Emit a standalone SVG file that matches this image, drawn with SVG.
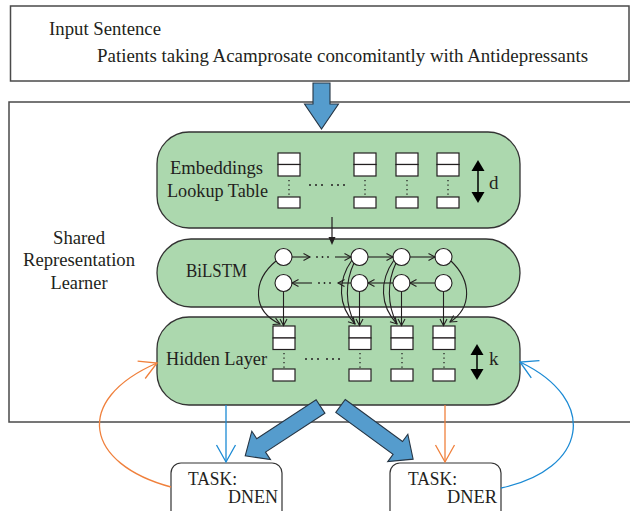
<svg xmlns="http://www.w3.org/2000/svg" width="630" height="511" viewBox="0 0 630 511">
<style>
  text { font-family: "Liberation Serif", "Times New Roman", serif; font-size: 18px; fill: #231f20; }
  .frame { fill: #fff; stroke: #4a4a4a; stroke-width: 1.5; }
  .green { fill: #acd8ae; stroke: #333; stroke-width: 1.3; }
  .cell { fill: #fff; stroke: #231f20; stroke-width: 1.2; }
  .dotv { stroke: #231f20; stroke-width: 1.3; stroke-dasharray: 1.3 3.2; fill: none; }
  .node { fill: #fff; stroke: #231f20; stroke-width: 1.1; }
  .ln { fill: none; stroke: #231f20; stroke-width: 1.1; }
  .big { fill: #559ccd; stroke: #263544; stroke-width: 1.1; stroke-linejoin: miter; }
  .or { fill: none; stroke: #f0803c; stroke-width: 1.3; }
  .bl { fill: none; stroke: #1b8ad4; stroke-width: 1.3; }
  .task { fill: #fff; stroke: #333; stroke-width: 1.2; }
</style>
<defs>
  <marker id="mk" markerUnits="userSpaceOnUse" markerWidth="14" markerHeight="14" refX="7" refY="4" orient="auto" overflow="visible">
    <path d="M0.5,0.5 L7,4 L0.5,7.5" fill="none" stroke="#231f20" stroke-width="1.1"/>
  </marker>
  <marker id="mkOr" markerUnits="userSpaceOnUse" markerWidth="24" markerHeight="24" refX="18" refY="10" orient="auto" overflow="visible">
    <path d="M1,0.5 L18,10 L1,19.5" fill="none" stroke="#f0803c" stroke-width="1.3"/>
  </marker>
  <marker id="mkBl" markerUnits="userSpaceOnUse" markerWidth="24" markerHeight="24" refX="18" refY="10" orient="auto" overflow="visible">
    <path d="M1,0.5 L18,10 L1,19.5" fill="none" stroke="#1b8ad4" stroke-width="1.3"/>
  </marker>
</defs>

<g id="input-sentence">
  <rect class="frame" x="10.5" y="6" width="618.5" height="75"/>
  <text x="49" y="35" textLength="112" lengthAdjust="spacingAndGlyphs">Input Sentence</text>
  <text x="97" y="62" textLength="491" lengthAdjust="spacingAndGlyphs">Patients taking Acamprosate concomitantly with Antidepressants</text>
</g>

<g id="shared-learner">
  <rect class="frame" x="9" y="102" width="630" height="320"/>
  <text x="79" y="244" text-anchor="middle" textLength="52" lengthAdjust="spacingAndGlyphs">Shared</text>
  <text x="79" y="266" text-anchor="middle" textLength="112" lengthAdjust="spacingAndGlyphs">Representation</text>
  <text x="79" y="289" text-anchor="middle" textLength="57" lengthAdjust="spacingAndGlyphs">Learner</text>
</g>

<g id="embeddings">
  <rect class="green" x="157" y="132" width="363" height="96" rx="32" ry="32"/>
  <text x="170" y="174" textLength="93" lengthAdjust="spacingAndGlyphs">Embeddings</text>
  <text x="167" y="197" textLength="101" lengthAdjust="spacingAndGlyphs">Lookup Table</text>
  <g>
    <rect class="cell" x="278" y="153" width="22" height="11.5"/>
    <rect class="cell" x="278" y="164.5" width="22" height="11.5"/>
    <line class="dotv" x1="289" y1="180" x2="289" y2="196"/>
    <rect class="cell" x="278" y="197" width="22" height="11"/>
    <rect class="cell" x="354" y="153" width="22" height="11.5"/>
    <rect class="cell" x="354" y="164.5" width="22" height="11.5"/>
    <line class="dotv" x1="365" y1="180" x2="365" y2="196"/>
    <rect class="cell" x="354" y="197" width="22" height="11"/>
    <rect class="cell" x="396" y="153" width="22" height="11.5"/>
    <rect class="cell" x="396" y="164.5" width="22" height="11.5"/>
    <line class="dotv" x1="407" y1="180" x2="407" y2="196"/>
    <rect class="cell" x="396" y="197" width="22" height="11"/>
    <rect class="cell" x="437" y="153" width="22" height="11.5"/>
    <rect class="cell" x="437" y="164.5" width="22" height="11.5"/>
    <line class="dotv" x1="448" y1="180" x2="448" y2="196"/>
    <rect class="cell" x="437" y="197" width="22" height="11"/>
  </g>
  <g fill="#231f20">
    <circle cx="310" cy="185" r="1"/><circle cx="316" cy="185" r="1"/><circle cx="322" cy="185" r="1"/>
    <circle cx="332" cy="185" r="1"/><circle cx="338" cy="185" r="1"/><circle cx="344" cy="185" r="1"/>
  </g>
  <line x1="478" y1="168" x2="478" y2="195" stroke="#000" stroke-width="1.5"/>
  <polygon points="478,160 471.5,171 484.5,171" fill="#000"/>
  <polygon points="478,203 471.5,192 484.5,192" fill="#000"/>
  <text x="489" y="189" style="font-size:19px">d</text>
</g>

<g id="bilstm">
  <rect class="green" x="157" y="239" width="363" height="68" rx="34" ry="34"/>
  <text x="186" y="277" textLength="61" lengthAdjust="spacingAndGlyphs">BiLSTM</text>
  <circle class="node" cx="283.5" cy="257" r="8.5"/>
  <circle class="node" cx="359.5" cy="257" r="8.5"/>
  <circle class="node" cx="401.5" cy="257" r="8.5"/>
  <circle class="node" cx="443.5" cy="257" r="8.5"/>
  <circle class="node" cx="283.5" cy="283" r="8.5"/>
  <circle class="node" cx="359.5" cy="283" r="8.5"/>
  <circle class="node" cx="401.5" cy="283" r="8.5"/>
  <circle class="node" cx="443.5" cy="283" r="8.5"/>
  <g fill="#231f20">
    <circle cx="317" cy="257" r="0.9"/><circle cx="322.5" cy="257" r="0.9"/><circle cx="328" cy="257" r="0.9"/>
    <circle cx="319" cy="283" r="0.9"/><circle cx="324.5" cy="283" r="0.9"/><circle cx="330" cy="283" r="0.9"/>
  </g>
</g>

<g id="hidden-layer">
  <rect class="green" x="157" y="317" width="363" height="88" rx="32" ry="32"/>
  <text x="166" y="365" textLength="101" lengthAdjust="spacingAndGlyphs">Hidden Layer</text>
  <g>
    <rect class="cell" x="273" y="326" width="22" height="12"/>
    <rect class="cell" x="273" y="338" width="22" height="11.5"/>
    <line class="dotv" x1="284" y1="353" x2="284" y2="368"/>
    <rect class="cell" x="273" y="369" width="22" height="12"/>
    <rect class="cell" x="349" y="326" width="22" height="12"/>
    <rect class="cell" x="349" y="338" width="22" height="11.5"/>
    <line class="dotv" x1="360" y1="353" x2="360" y2="368"/>
    <rect class="cell" x="349" y="369" width="22" height="12"/>
    <rect class="cell" x="391" y="326" width="22" height="12"/>
    <rect class="cell" x="391" y="338" width="22" height="11.5"/>
    <line class="dotv" x1="402" y1="353" x2="402" y2="368"/>
    <rect class="cell" x="391" y="369" width="22" height="12"/>
    <rect class="cell" x="433" y="326" width="22" height="12"/>
    <rect class="cell" x="433" y="338" width="22" height="11.5"/>
    <line class="dotv" x1="444" y1="353" x2="444" y2="368"/>
    <rect class="cell" x="433" y="369" width="22" height="12"/>
  </g>
  <g fill="#231f20">
    <circle cx="306" cy="359" r="1"/><circle cx="312" cy="359" r="1"/><circle cx="318" cy="359" r="1"/>
    <circle cx="327" cy="359" r="1"/><circle cx="333" cy="359" r="1"/><circle cx="339" cy="359" r="1"/>
  </g>
  <line x1="477" y1="352" x2="477" y2="373" stroke="#000" stroke-width="1.5"/>
  <polygon points="477,344 470.5,355 483.5,355" fill="#000"/>
  <polygon points="477,380 470.5,369 483.5,369" fill="#000"/>
  <text x="489" y="365" style="font-size:19px">k</text>
</g>

<g id="task-dnen">
  <rect class="task" x="171" y="463" width="111" height="70" rx="10" ry="10"/>
  <text x="188" y="485" textLength="49" lengthAdjust="spacingAndGlyphs">TASK:</text>
  <text x="228" y="503" textLength="50" lengthAdjust="spacingAndGlyphs">DNEN</text>
</g>

<g id="task-dner">
  <rect class="task" x="390" y="463" width="111" height="70" rx="10" ry="10"/>
  <text x="408" y="485" textLength="49" lengthAdjust="spacingAndGlyphs">TASK:</text>
  <text x="447" y="503" textLength="50" lengthAdjust="spacingAndGlyphs">DNER</text>
</g>

<g id="connectors">
  <polygon class="big" points="313,83 330,83 330,104 338.5,104 321.5,129 304.5,104 313,104"/>
  <line x1="332" y1="217" x2="332" y2="238" stroke="#231f20" stroke-width="1.2"/>
  <polygon points="328.5,237 335.5,237 332,245" fill="#231f20"/>
  <line class="ln" x1="292" y1="257" x2="310" y2="257" marker-end="url(#mk)"/>
  <line class="ln" x1="335" y1="257" x2="351" y2="257" marker-end="url(#mk)"/>
  <line class="ln" x1="368" y1="257" x2="393" y2="257" marker-end="url(#mk)"/>
  <line class="ln" x1="410" y1="257" x2="435" y2="257" marker-end="url(#mk)"/>
  <line class="ln" x1="435" y1="283" x2="410" y2="283" marker-end="url(#mk)"/>
  <line class="ln" x1="393" y1="283" x2="368" y2="283" marker-end="url(#mk)"/>
  <line class="ln" x1="351" y1="283" x2="338" y2="283" marker-end="url(#mk)"/>
  <line class="ln" x1="312" y1="283" x2="292" y2="283" marker-end="url(#mk)"/>
  <line class="ln" x1="283.5" y1="291.5" x2="283.5" y2="325.5" marker-end="url(#mk)"/>
  <line class="ln" x1="359.5" y1="291.5" x2="359.5" y2="325.5" marker-end="url(#mk)"/>
  <line class="ln" x1="401.5" y1="291.5" x2="401.5" y2="325.5" marker-end="url(#mk)"/>
  <line class="ln" x1="443.5" y1="291.5" x2="443.5" y2="325.5" marker-end="url(#mk)"/>
  <path class="ln" d="M276,261 C252,281 252,311 280,324" marker-end="url(#mk)"/>
  <path class="ln" d="M352,260 C337,281 338,306 355,324" marker-end="url(#mk)"/>
  <path class="ln" d="M354,263 C345,282 345,305 355,324"/>
  <path class="ln" d="M394,260 C379,281 380,306 397,324" marker-end="url(#mk)"/>
  <path class="ln" d="M396,263 C387,282 387,305 397,324"/>
  <path class="ln" d="M451,261 C472,281 472,308 450,322" marker-end="url(#mk)"/>
  <polygon class="big" transform="translate(320.5,406.5) rotate(146.75)" points="0,-8 71,-8 71,-17 90,0 71,17 71,8 0,8"/>
  <polygon class="big" transform="translate(340.5,406) rotate(36.2)" points="0,-8 71,-8 71,-17 90,0 71,17 71,8 0,8"/>
  <line class="bl" x1="226" y1="405" x2="226" y2="462" marker-end="url(#mkBl)"/>
  <line class="or" x1="445" y1="405" x2="445" y2="462" marker-end="url(#mkOr)"/>
  <path class="or" d="M171,487 C85,464 72,400 157,363" marker-end="url(#mkOr)"/>
  <path class="bl" d="M501,488 C587,470 600,400 520,362" marker-end="url(#mkBl)"/>
</g>
</svg>
